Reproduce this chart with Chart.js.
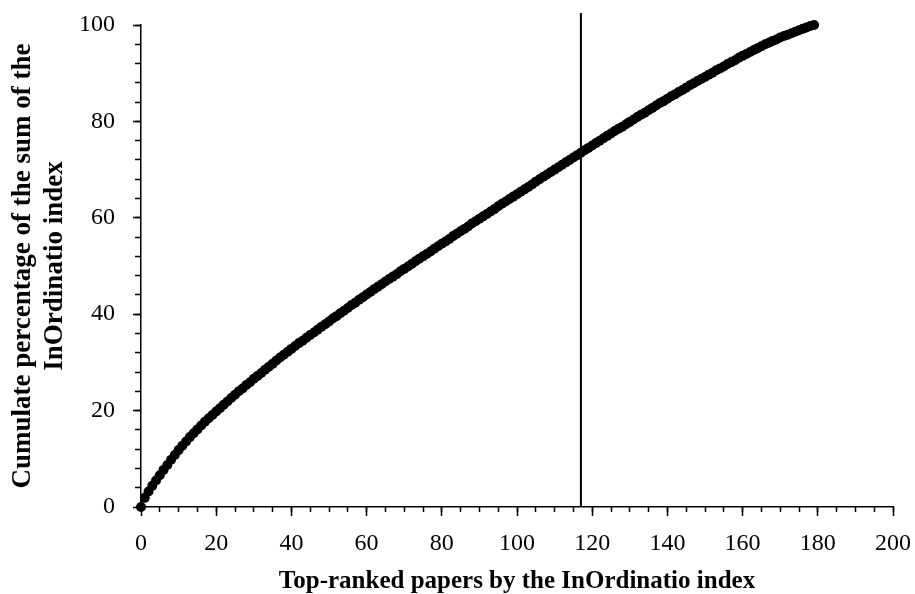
<!DOCTYPE html>
<html>
<head>
<meta charset="utf-8">
<script src="https://cdn.jsdelivr.net/npm/chart.js@4.4.1/dist/chart.umd.min.js"></script>
<style>
  html, body { margin: 0; padding: 0; background: #ffffff; }
  #wrap { width: 915px; height: 594px; position: relative; }
</style>
</head>
<body>
<div id="wrap"><canvas id="c" width="915" height="594"></canvas></div>
<script>
// Cumulative percentage of the InOrdinatio sum, one value per ranked paper (rank 0..179)
const cumulativePct = [
  0, 1.9, 3.2, 4.4, 5.5, 6.6, 7.7, 8.7, 9.8, 10.8,
  11.8, 12.7, 13.6, 14.5, 15.3, 16.1, 16.9, 17.7, 18.4, 19.1,
  19.8, 20.5, 21.2, 21.9, 22.6, 23.3, 24.0, 24.6, 25.3, 25.9,
  26.6, 27.2, 27.8, 28.5, 29.1, 29.7, 30.4, 31.0, 31.6, 32.2,
  32.8, 33.4, 34.0, 34.5, 35.1, 35.7, 36.2, 36.8, 37.4, 37.9,
  38.5, 39.1, 39.6, 40.2, 40.7, 41.3, 41.9, 42.4, 43.0, 43.5,
  44.1, 44.6, 45.2, 45.7, 46.2, 46.8, 47.3, 47.8, 48.3, 48.9,
  49.4, 49.9, 50.4, 51.0, 51.5, 52.0, 52.5, 53.0, 53.6, 54.1,
  54.6, 55.1, 55.6, 56.2, 56.7, 57.2, 57.7, 58.2, 58.8, 59.3,
  59.8, 60.3, 60.8, 61.3, 61.8, 62.4, 62.9, 63.4, 63.9, 64.4,
  64.9, 65.4, 65.9, 66.4, 66.9, 67.5, 68.0, 68.5, 69.0, 69.5,
  70.0, 70.5, 71.0, 71.5, 72.0, 72.5, 73.0, 73.5, 74.0, 74.5,
  75.0, 75.5, 76.0, 76.5, 77.0, 77.5, 78.0, 78.5, 78.9, 79.4,
  79.9, 80.4, 80.9, 81.4, 81.8, 82.3, 82.8, 83.3, 83.8, 84.2,
  84.7, 85.2, 85.6, 86.1, 86.5, 87.0, 87.5, 87.9, 88.4, 88.8,
  89.2, 89.7, 90.1, 90.6, 91.0, 91.4, 91.9, 92.3, 92.7, 93.2,
  93.6, 94.0, 94.4, 94.8, 95.2, 95.6, 96.0, 96.3, 96.7, 97.0,
  97.4, 97.7, 98.0, 98.3, 98.6, 98.9, 99.2, 99.5, 99.8, 100.0
];

// Cut-off marker (vertical line) at this rank
const cutoffRank = [117, 117];
const cutoffSpan = [0, 102.5];

// Axis settings
const xMajorStep = 20;
const xMinorStep = 5;
const yMajorStep = 20;
const yMinorStep = 4;
const xTitle = 'Top-ranked papers by the InOrdinatio index';
const yTitle = ['Cumulate percentage of the sum of the', 'InOrdinatio index'];

const points = cumulativePct.map((v, i) => ({ x: i, y: v }));
const cutoffPoints = cutoffRank.map((x, i) => ({ x: x, y: cutoffSpan[i] }));

const FONT = "'Liberation Serif', 'Times New Roman', serif";

function zeroPad(s) {
  s.paddingLeft = 0; s.paddingRight = 0; s.paddingTop = 0; s.paddingBottom = 0;
}

new Chart(document.getElementById('c'), {
  type: 'scatter',
  data: {
    datasets: [
      {
        label: 'cumulative',
        data: points,
        xAxisID: 'x',
        yAxisID: 'y',
        backgroundColor: '#000000',
        borderColor: '#000000',
        pointRadius: 5,
        pointBorderWidth: 0,
        pointHoverRadius: 5,
        clip: false,
        order: 1
      },
      {
        label: 'cutoff',
        data: cutoffPoints,
        xAxisID: 'x',
        yAxisID: 'y',
        showLine: true,
        borderColor: '#000000',
        borderWidth: 2,
        pointRadius: 0,
        clip: false,
        order: 2
      }
    ]
  },
  options: {
    responsive: false,
    animation: false,
    events: [],
    layout: { padding: { left: 0, right: 22, top: 25, bottom: 0 } },
    plugins: { legend: { display: false }, tooltip: { enabled: false } },
    scales: {
      x: {
        type: 'linear',
        min: 0,
        max: 200,
        afterFit: (s) => { s.height = 87; zeroPad(s); },
        ticks: {
          stepSize: xMajorStep,
          autoSkip: false,
          maxRotation: 0,
          color: '#000000',
          padding: 13,
          font: { family: FONT, size: 24 }
        },
        grid: {
          display: true,
          drawOnChartArea: false,
          drawTicks: true,
          tickLength: 9,
          tickColor: '#000000',
          tickWidth: 1.5
        },
        border: { display: true, color: '#000000', width: 1.5 },
        title: {
          display: true,
          text: xTitle,
          color: '#000000',
          font: { family: FONT, size: 25, weight: 'bold', lineHeight: 1 },
          padding: { top: 0, bottom: 0 }
        }
      },
      xMinor: {
        type: 'linear',
        axis: 'x',
        min: 0,
        max: 200,
        position: { y: 0 },
        ticks: { display: false, stepSize: xMinorStep, autoSkip: false },
        grid: {
          display: true,
          drawOnChartArea: false,
          drawTicks: true,
          tickLength: 5,
          tickColor: '#000000',
          tickWidth: 1.5
        },
        border: { display: false }
      },
      y: {
        type: 'linear',
        min: 0,
        max: 100,
        afterFit: (s) => { s.width = 141; zeroPad(s); },
        ticks: {
          stepSize: yMajorStep,
          autoSkip: false,
          color: '#000000',
          padding: 18,
          font: { family: FONT, size: 24 }
        },
        grid: {
          display: true,
          drawOnChartArea: false,
          drawTicks: true,
          tickLength: 8,
          tickColor: '#000000',
          tickWidth: 1.5
        },
        border: { display: true, color: '#000000', width: 1.5 },
        title: {
          display: true,
          text: yTitle,
          color: '#000000',
          font: { family: FONT, size: 27, weight: 'bold', lineHeight: 1.15 },
          padding: { top: 8, bottom: 0 }
        }
      },
      yMinor: {
        type: 'linear',
        axis: 'y',
        min: 0,
        max: 100,
        position: { x: 0 },
        ticks: { display: false, stepSize: yMinorStep, autoSkip: false },
        grid: {
          display: true,
          drawOnChartArea: false,
          drawTicks: true,
          tickLength: 6,
          tickColor: '#000000',
          tickWidth: 1.5
        },
        border: { display: false }
      }
    }
  }
});
</script>
</body>
</html>
